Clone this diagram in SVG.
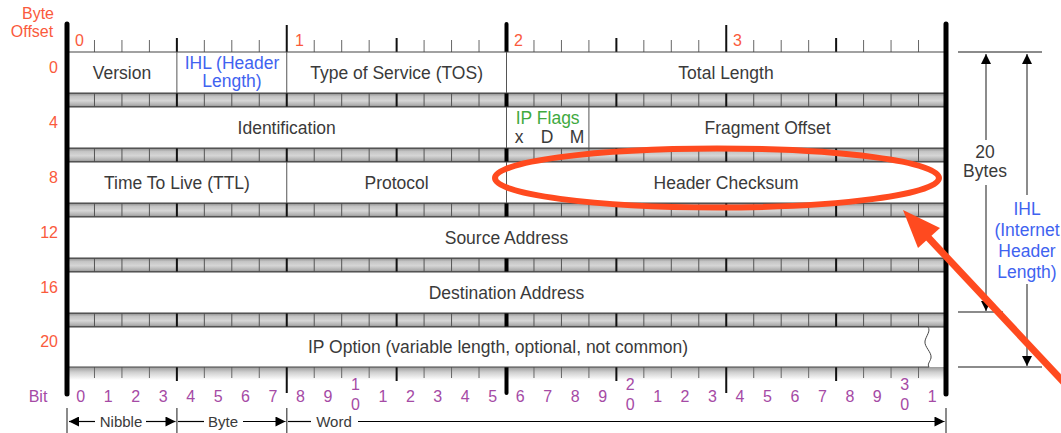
<svg xmlns="http://www.w3.org/2000/svg" width="1061" height="433" viewBox="0 0 1061 433">
<style>
text{font-family:"Liberation Sans",Arial,Helvetica,sans-serif}
.f{font-size:17.5px;fill:#3a3a3a;text-anchor:middle}
.red{font-size:16px;fill:#fa5a3c}
.redr{font-size:16px;fill:#fa5a3c;text-anchor:end}
.blue{fill:#3f63f0}
.green{fill:#3faa3f}
.pur{font-size:16px;fill:#a54aa5;text-anchor:middle}
.sm{font-size:15px;fill:#3a3a3a;text-anchor:middle}
.row{fill:#fff;stroke:#444;stroke-width:1}
.div{stroke:#555;stroke-width:1}
.band{fill:url(#bandg);stroke:#333;stroke-width:1}
.t1{stroke:#666;stroke-width:1}
.t2{stroke:#111;stroke-width:2}
.t4{stroke:#000;stroke-width:4;stroke-linecap:round}
.edge{stroke:#000;stroke-width:5;stroke-linecap:round}
.dim{stroke:#666;stroke-width:1.5;fill:none}
.ah{fill:#000}
.hl{stroke:#ff4a1f;fill:none}
</style>
<defs>
<linearGradient id="bandg" x1="0" y1="0" x2="0" y2="1">
<stop offset="0" stop-color="#8a8a8a"/>
<stop offset="0.25" stop-color="#c4c4c4"/>
<stop offset="0.55" stop-color="#d6d6d6"/>
<stop offset="0.85" stop-color="#b0b0b0"/>
<stop offset="1" stop-color="#8a8a8a"/>
</linearGradient>
<linearGradient id="shade" x1="0" y1="0" x2="0" y2="1">
<stop offset="0" stop-color="#9a9a9a"/>
<stop offset="0.4" stop-color="#cfcfcf"/>
<stop offset="1" stop-color="#ffffff"/>
</linearGradient>
<marker id="arrR" viewBox="0 0 10 10" refX="10" refY="5" markerWidth="14" markerHeight="10" markerUnits="userSpaceOnUse" orient="auto"><path d="M0,0 L10,5 L0,10 z" fill="#000"/></marker>
<marker id="arrS" viewBox="0 0 10 10" refX="10" refY="5" markerWidth="13" markerHeight="10" markerUnits="userSpaceOnUse" orient="auto-start-reverse"><path d="M0,0 L10,5 L0,10 z" fill="#000"/></marker>
</defs>

<!-- labels on left -->
<g id="axis-labels">
<text class="red" x="38" y="19" text-anchor="middle" font-size="15">Byte</text>
<text class="red" x="32" y="37" text-anchor="middle" font-size="15">Offset</text>
<text class="redr" x="58" y="73">0</text>
<text class="redr" x="58" y="128">4</text>
<text class="redr" x="58" y="183">8</text>
<text class="redr" x="58" y="238">12</text>
<text class="redr" x="58" y="293">16</text>
<text class="redr" x="58" y="347">20</text>
<text class="red" x="75" y="46">0</text>
<text class="red" x="295" y="46">1</text>
<text class="red" x="514" y="46">2</text>
<text class="red" x="733" y="46">3</text>
<text class="pur" x="38" y="402">Bit</text>
</g>

<!-- top ruler -->
<g id="top-ruler">
<path class="t1" d="M94.47,40V52M121.94,40V52M149.41,40V52M204.34,40V52M231.81,40V52M259.28,40V52M314.22,40V52M341.69,40V52M369.16,40V52M424.09,40V52M451.56,40V52M479.03,40V52M533.97,40V52M561.44,40V52M588.91,40V52M643.84,40V52M671.31,40V52M698.78,40V52M753.72,40V52M781.19,40V52M808.66,40V52M863.59,40V52M891.06,40V52M918.53,40V52"/>
<path class="t2" d="M176.88,38V52M396.63,38V52M616.38,38V52M836.13,38V52M286.75,25V52M726.25,25V52"/>
<path class="t4" d="M506.5,24V52"/>
</g>

<!-- separator bands -->
<g id="bands">
<rect class="band" x="67" y="93" width="879" height="14"/>
<rect class="band" x="67" y="148" width="879" height="14"/>
<rect class="band" x="67" y="203" width="879" height="14"/>
<rect class="band" x="67" y="258" width="879" height="14"/>
<rect class="band" x="67" y="313" width="879" height="14"/>
<rect x="67" y="367" width="879" height="13" fill="url(#shade)"/>
<g id="band-ticks">
<path id="bt1" class="div" d="M94.47,0v14M121.94,0v14M149.41,0v14M204.34,0v14M231.81,0v14M259.28,0v14M314.22,0v14M341.69,0v14M369.16,0v14M424.09,0v14M451.56,0v14M479.03,0v14M533.97,0v14M561.44,0v14M588.91,0v14M643.84,0v14M671.31,0v14M698.78,0v14M753.72,0v14M781.19,0v14M808.66,0v14M863.59,0v14M891.06,0v14M918.53,0v14" transform="translate(0,93)"/>
<path id="bt2" class="t2" d="M176.88,0v14M286.75,0v14M396.63,0v14M616.38,0v14M726.25,0v14M836.13,0v14" transform="translate(0,93)"/>
<path id="bt4" stroke="#000" stroke-width="4" d="M506.5,0v14" transform="translate(0,93)"/>
<use href="#bt1" y="55"/><use href="#bt2" y="55"/><use href="#bt4" y="55"/>
<use href="#bt1" y="110"/><use href="#bt2" y="110"/><use href="#bt4" y="110"/>
<use href="#bt1" y="165"/><use href="#bt2" y="165"/><use href="#bt4" y="165"/>
<use href="#bt1" y="220"/><use href="#bt2" y="220"/><use href="#bt4" y="220"/>
</g>
</g>

<!-- bottom ruler -->
<g id="bottom-ruler">
<path class="t1" d="M94.47,367V378M121.94,367V378M149.41,367V378M204.34,367V378M231.81,367V378M259.28,367V378M314.22,367V378M341.69,367V378M369.16,367V378M424.09,367V378M451.56,367V378M479.03,367V378M533.97,367V378M561.44,367V378M588.91,367V378M643.84,367V378M671.31,367V378M698.78,367V378M753.72,367V378M781.19,367V378M808.66,367V378M863.59,367V378M891.06,367V378M918.53,367V378"/>
<path class="t2" d="M176.88,367V381M396.63,367V381M616.38,367V381M836.13,367V381M286.75,367V393M726.25,367V393"/>
<path class="t4" d="M506.5,367V393"/>
</g>

<!-- Row 0 -->
<g id="row0">
<rect class="row" x="67" y="52" width="879" height="41"/>
<path class="div" d="M176.88,52V93M286.75,52V93M506.5,52V93"/>
<text class="f" x="122" y="79">Version</text>
<text class="f blue" x="232" y="69">IHL (Header</text>
<text class="f blue" x="232" y="87">Length)</text>
<text class="f" x="396.6" y="79">Type of Service (TOS)</text>
<text class="f" x="726" y="79">Total Length</text>
</g>

<!-- Row 4 -->
<g id="row4">
<rect class="row" x="67" y="107" width="879" height="41"/>
<path class="div" d="M506.5,107V148M588.91,107V148"/>
<text class="f" x="286.7" y="134">Identification</text>
<text class="f green" x="547.7" y="124">IP Flags</text>
<text class="f" x="519" y="143">x</text>
<text class="f" x="547" y="143">D</text>
<text class="f" x="577" y="143">M</text>
<text class="f" x="767.5" y="134">Fragment Offset</text>
</g>

<!-- Row 8 -->
<g id="row8">
<rect class="row" x="67" y="162" width="879" height="41"/>
<path class="div" d="M286.75,162V203M506.5,162V203"/>
<text class="f" x="177" y="189">Time To Live (TTL)</text>
<text class="f" x="396.6" y="189">Protocol</text>
<text class="f" x="726" y="189">Header Checksum</text>
</g>

<!-- Row 12 -->
<g id="row12">
<rect class="row" x="67" y="217" width="879" height="41"/>
<text class="f" x="506.5" y="244">Source Address</text>
</g>

<!-- Row 16 -->
<g id="row16">
<rect class="row" x="67" y="272" width="879" height="41"/>
<text class="f" x="506.5" y="299">Destination Address</text>
</g>

<!-- Row 20 -->
<g id="row20">
<path class="row" d="M67,327H928C931,331 926,336 925,341C924,347 932,352 931,358C930,362 927,364 929,367H67Z"/>
<text class="f" x="498" y="353">IP Option (variable length, optional, not common)</text>
</g>

<!-- outer edges -->
<g id="edges">
<path class="edge" d="M67,24V394"/>
<path class="edge" d="M946,24V394"/>
</g>

<!-- bit numbers -->
<g id="bits">
<text class="pur" x="80.7" y="402">0</text>
<text class="pur" x="108.2" y="402">1</text>
<text class="pur" x="135.7" y="402">2</text>
<text class="pur" x="163.1" y="402">3</text>
<text class="pur" x="190.6" y="402">4</text>
<text class="pur" x="218.1" y="402">5</text>
<text class="pur" x="245.5" y="402">6</text>
<text class="pur" x="273.0" y="402">7</text>
<text class="pur" x="300.5" y="402">8</text>
<text class="pur" x="328.0" y="402">9</text>
<text class="pur" x="355.4" y="390">1</text>
<text class="pur" x="355.4" y="410">0</text>
<text class="pur" x="382.9" y="402">1</text>
<text class="pur" x="410.4" y="402">2</text>
<text class="pur" x="437.8" y="402">3</text>
<text class="pur" x="465.3" y="402">4</text>
<text class="pur" x="492.8" y="402">5</text>
<text class="pur" x="520.2" y="402">6</text>
<text class="pur" x="547.7" y="402">7</text>
<text class="pur" x="575.2" y="402">8</text>
<text class="pur" x="602.6" y="402">9</text>
<text class="pur" x="630.1" y="390">2</text>
<text class="pur" x="630.1" y="410">0</text>
<text class="pur" x="657.6" y="402">1</text>
<text class="pur" x="685.0" y="402">2</text>
<text class="pur" x="712.5" y="402">3</text>
<text class="pur" x="740.0" y="402">4</text>
<text class="pur" x="767.5" y="402">5</text>
<text class="pur" x="794.9" y="402">6</text>
<text class="pur" x="822.4" y="402">7</text>
<text class="pur" x="849.9" y="402">8</text>
<text class="pur" x="877.3" y="402">9</text>
<text class="pur" x="904.8" y="390">3</text>
<text class="pur" x="904.8" y="410">0</text>
<text class="pur" x="932.3" y="402">1</text>
</g>

<!-- connectors -->
<g id="connectors">
<path class="dim" d="M67,408V433M176.88,408V433M286.75,408V433M946,408V433" stroke="#555" stroke-width="1"/>
<line x1="95" y1="421.5" x2="69" y2="421.5" stroke="#000" stroke-width="1.2" marker-end="url(#arrR)"/>
<line x1="146" y1="421.5" x2="175.5" y2="421.5" stroke="#000" stroke-width="1.2" marker-end="url(#arrR)"/>
<line x1="178" y1="421.5" x2="204" y2="421.5" stroke="#000" stroke-width="1.2"/>
<line x1="243" y1="421.5" x2="285.5" y2="421.5" stroke="#000" stroke-width="1.2" marker-end="url(#arrR)"/>
<line x1="288" y1="421.5" x2="311" y2="421.5" stroke="#000" stroke-width="1.2"/>
<line x1="358" y1="421.5" x2="944.5" y2="421.5" stroke="#000" stroke-width="1.2" marker-end="url(#arrR)"/>

<path class="dim" d="M958,52H1042M958,312H1003M958,367H1042"/>
<line class="dim" x1="986" y1="140" x2="986" y2="54" marker-end="url(#arrS)"/>
<line class="dim" x1="986" y1="185" x2="986" y2="311" marker-end="url(#arrS)"/>
<line class="dim" x1="1027" y1="195" x2="1027" y2="54" marker-end="url(#arrS)"/>
<line class="dim" x1="1027" y1="284" x2="1027" y2="366" marker-end="url(#arrS)"/>
</g>

<g id="bottom-labels">
<text class="sm" x="121" y="427">Nibble</text>
<text class="sm" x="223" y="427">Byte</text>
<text class="sm" x="334" y="427">Word</text>
</g>

<g id="size-labels">
<text class="f" x="985" y="158">20</text>
<text class="f" x="985" y="177">Bytes</text>
<text class="f blue" x="1027" y="215">IHL</text>
<text class="f blue" x="1027" y="236">(Internet</text>
<text class="f blue" x="1027" y="257">Header</text>
<text class="f blue" x="1027" y="278">Length)</text>
</g>

<!-- highlight -->
<g id="highlight">
<ellipse class="hl" cx="717" cy="178" rx="222" ry="29.5" stroke-width="6"/>
<line class="hl" x1="924" y1="233" x2="1085" y2="405" stroke-width="7"/>
<path d="M903,210 L918,248 L940,228 Z" fill="#ff4a1f"/>
</g>
</svg>
